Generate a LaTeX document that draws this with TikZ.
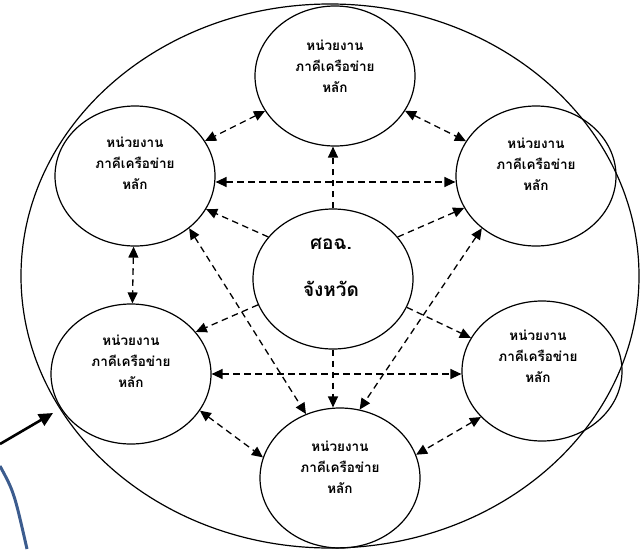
\documentclass[tikz,border=0pt]{standalone}
\usepackage{fontspec}
\newfontfamily\thai[Script=Thai]{Loma}
\usetikzlibrary{arrows.meta,shapes.geometric}
\definecolor{arcblue}{RGB}{60,92,142}
\begin{document}
\begin{tikzpicture}[x=1pt,y=-1pt,
  unit/.style={draw, ellipse, line width=1.2pt, minimum width=160pt, minimum height=140pt, inner sep=0pt},
  unittext/.style={align=center, font=\thai\bfseries\fontsize{13.5}{21}\selectfont, inner sep=0pt},
  hubtext/.style={font=\thai\bfseries\fontsize{19}{22}\selectfont, inner sep=0pt},
  link/.style={draw, dashed, dash pattern=on 6.5pt off 4.5pt, line width=1.3pt},
  both/.style={link, {Triangle[length=11pt,width=10pt]}-{Triangle[length=11pt,width=10pt]}},
  one/.style={link, -{Triangle[length=11pt,width=10pt]}},
  pointer/.style={line width=2.6pt, -{Triangle[length=14pt,width=13pt]}}
]
\useasboundingbox (0,0) rectangle (640,549);

% outer boundary
\node[draw, ellipse, line width=1.2pt, minimum width=618pt, minimum height=544pt, inner sep=0pt] (outer) at (330,276) {};

% partner units and the provincial centre
\node[unit] (top) at (335,76) {};
\node[unit] (ul)  at (135,176) {};
\node[unit] (ur)  at (536,176) {};
\node[unit] (ctr) at (333,279) {};
\node[unit] (ll)  at (131,374) {};
\node[unit] (lr)  at (542,371) {};
\node[unit] (bot) at (340,478) {};

\node[unittext] (topT) at (335,66)  {หน่วยงาน\\ภาคีเครือข่าย\\หลัก};
\node[unittext] (ulT)  at (135,163) {หน่วยงาน\\ภาคีเครือข่าย\\หลัก};
\node[unittext] (urT)  at (536,164) {หน่วยงาน\\ภาคีเครือข่าย\\หลัก};
\node[unittext] (llT)  at (131,361) {หน่วยงาน\\ภาคีเครือข่าย\\หลัก};
\node[unittext] (lrT)  at (538,356) {หน่วยงาน\\ภาคีเครือข่าย\\หลัก};
\node[unittext] (botT) at (340,467) {หน่วยงาน\\ภาคีเครือข่าย\\หลัก};
\node[hubtext] (ctrA) at (331,244) {ศอฉ.};
\node[hubtext] (ctrB) at (331,289) {จังหวัด};

% links between units
\draw[both] (top) -- (ul);
\draw[both] (top) -- (ur);
\draw[one]  (ctr.north) -- (ctr.north |- top.south);
\draw[both] ([yshift=-6pt]ul.east) -- ([yshift=-6pt]ur.west);
\draw[one]  (ctr.147) -- (ul.-25);
\draw[one]  (ctr.33) -- (ur.204);
\draw[both] (ul) -- (ll);
\draw[one]  (ctr.199) -- (ll.33);
\draw[one]  (ctr.-21) -- (lr.155);
\draw[both] (ll.east) -- (ll.east -| lr.west);
\draw[one]  (ctr.south) -- (ctr.south |- bot.north);
\draw[both] (ul.-44) -- (bot.118);
\draw[both] (ur.224) -- (bot.74);
\draw[both] (ll.-28) -- (bot.165);
\draw[both] (lr.217) -- (bot.17);

% pointer to the boundary and the blue arc
\coordinate (tail) at (0,444);
\coordinate (tip) at (53,413);
\draw[pointer] (tail) -- (tip);
\coordinate (arcA) at (0,466);
\coordinate (arcB) at (27,549);
\draw[arcblue, line width=3pt] (arcA) .. controls (14,492) .. (arcB);
\end{tikzpicture}
\end{document}
